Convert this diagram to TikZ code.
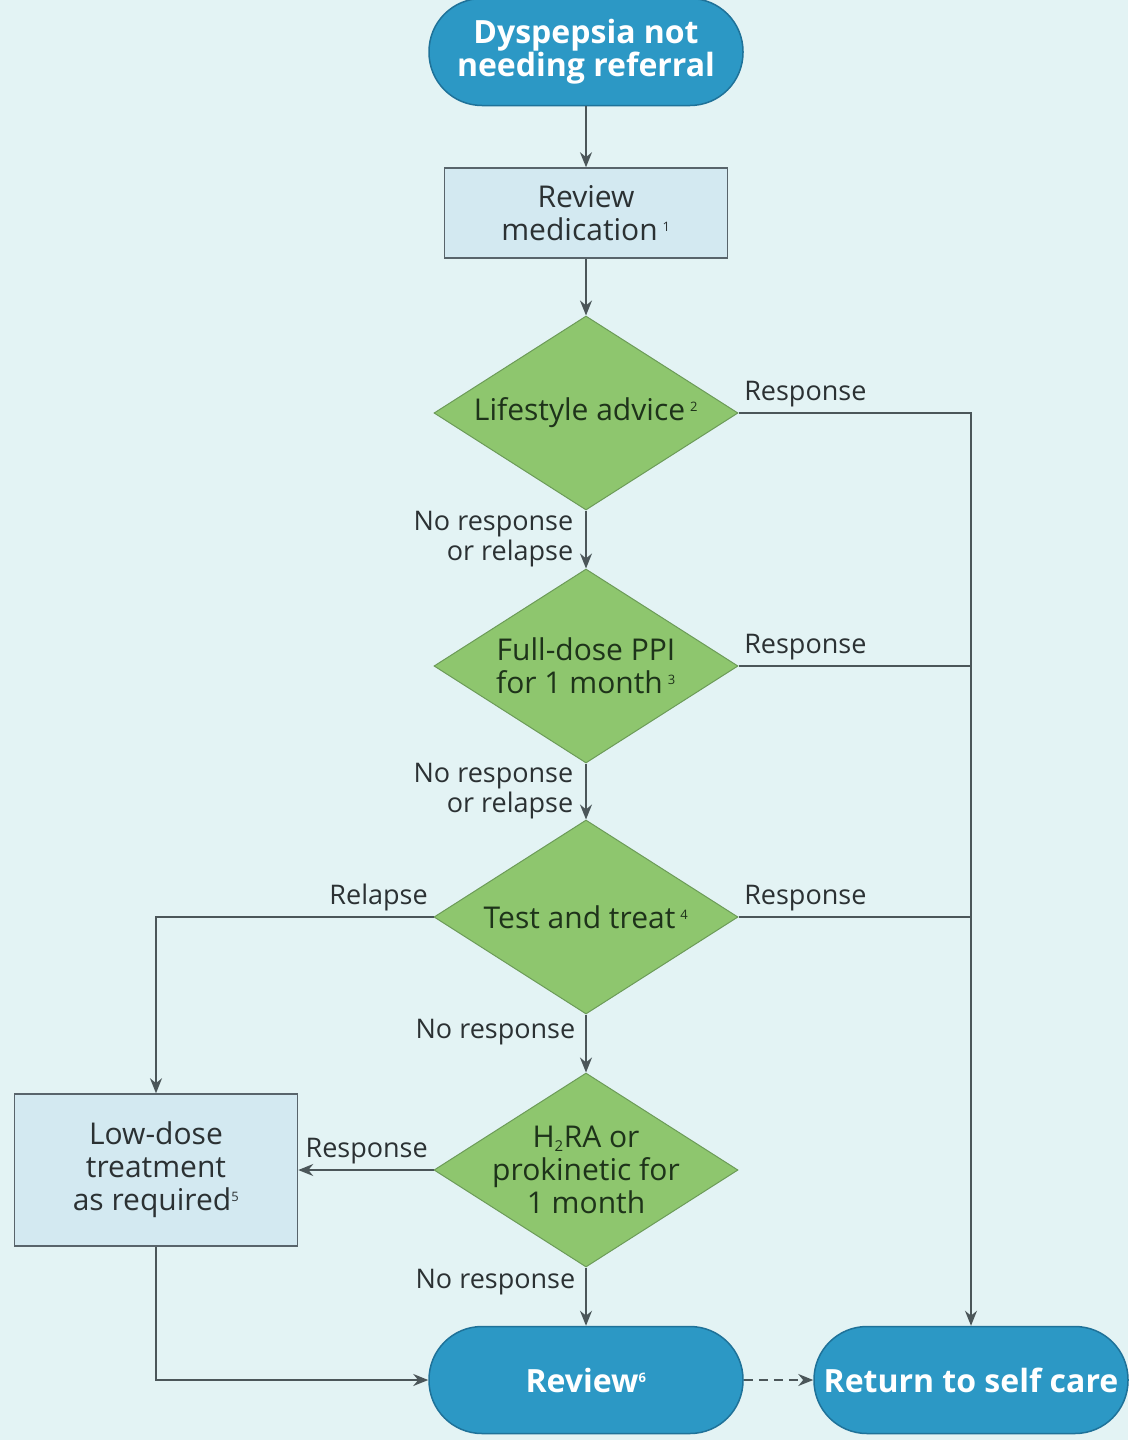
\documentclass[tikz,border=0pt]{standalone}
\usepackage{fontspec}
\setmainfont{Open Sans}
\usetikzlibrary{shapes}
\usetikzlibrary{arrows.meta}
\definecolor{bgcyan}{HTML}{E3F3F4}
\definecolor{termblue}{HTML}{2C98C5}
\definecolor{termedge}{HTML}{1F7299}
\definecolor{boxblue}{HTML}{D3E9F1}
\definecolor{boxedge}{HTML}{58646B}
\definecolor{diagreen}{HTML}{8EC66E}
\definecolor{diaedge}{HTML}{6C9B58}
\definecolor{linegray}{HTML}{4B5659}
\definecolor{textdark}{HTML}{2B3133}
\definecolor{textgreen}{HTML}{1E331A}
\newcommand{\fnref}[1]{\textsuperscript{\fontsize{13}{13}\selectfont #1}}
\tikzset{
	flownode/.style = {align=center, inner sep=0pt, text centered,
		font=\fontsize{30}{33}\selectfont},
	fl_term/.style = {flownode, rectangle, rounded corners=53pt, white,
		font=\fontsize{32}{33}\selectfont\bfseries, draw=termedge, fill=termblue,
		line width=1.5pt, minimum width=314pt, minimum height=107pt},% start and end
	fl_box/.style = {flownode, rectangle, text=textdark, draw=boxedge,
		fill=boxblue, line width=1.5pt, minimum width=283pt},% action
	fl_dia/.style = {flownode, diamond, aspect=1.57, text=textgreen,
		draw=diaedge, fill=diagreen, line width=1pt,
		minimum width=304pt, minimum height=194pt},% decision
	fl_lbl/.style = {font=\fontsize{27}{30}\selectfont, text=textdark,
		inner sep=5pt, align=right},% branch label
	conn/.style = {draw=linegray, line width=1.5pt}
}
\begin{document}
\begin{tikzpicture}[->,>={Stealth[length=15pt,width=12pt]},x=1pt,y=-1pt]
	\useasboundingbox (0,0) rectangle (1128,1440);
	\fill[bgcyan] (0,0) rectangle (1128,1440);
	\node [fl_term] (start) at (586,52) {Dyspepsia not\\needing referral};
	\node [fl_box, minimum height=90pt] (revmed) at (586,213) {Review\\medication\,\fnref{1}};
	\node [fl_dia] (life) at (586,413) {Lifestyle advice\,\fnref{2}};
	\node [fl_dia] (ppi) at (586,666) {Full-dose PPI\\for 1 month\,\fnref{3}};
	\node [fl_dia] (test) at (586,917) {Test and treat\,\fnref{4}};
	\node [fl_dia, inner xsep=-30pt, inner ysep=-20pt] (h2ra) at (586,1170) {H\textsubscript{\fontsize{15}{15}\selectfont 2}RA or\\prokinetic for\\1 month};
	\node [fl_box, minimum height=152pt] (lowdose) at (156,1170) {Low-dose\\treatment\\as required\fnref{5}};
	\node [fl_term] (review) at (586,1380) {Review\fnref{6}};
	\node [fl_term] (selfcare) at (971,1380) {Return to self care};

	\draw [conn] (start) -- (revmed);
	\draw [conn] (revmed) -- (life);
	\draw [conn] (life) -- node[fl_lbl, left, inner xsep=12pt]{No response\\or relapse} (ppi);
	\draw [conn] (ppi) -- node[fl_lbl, left, inner xsep=12pt]{No response\\or relapse} (test);
	\draw [conn] (test) -- node[fl_lbl, left, inner xsep=10pt, pos=0.3]{No response} (h2ra);
	\draw [conn] (h2ra) -- node[fl_lbl, left, inner xsep=10pt, pos=0.25]{No response} (review);
	\draw [conn] (life.east) -- node[fl_lbl, above right, pos=0]{Response} (life.east -| selfcare) -- (selfcare);
	\draw [conn, -] (ppi.east) -- node[fl_lbl, above right, pos=0]{Response} (ppi.east -| selfcare);
	\draw [conn, -] (test.east) -- node[fl_lbl, above right, pos=0]{Response} (test.east -| selfcare);
	\draw [conn] (test.west) -- node[fl_lbl, above left, pos=0]{Relapse} (test.west -| lowdose) -- (lowdose);
	\draw [conn] (h2ra.west) -- node[fl_lbl, above left, pos=0]{Response} (lowdose);
	\draw [conn] (lowdose) |- (review);
	\draw [conn, dash pattern=on 9pt off 6pt] (review) -- (selfcare);
\end{tikzpicture}
\end{document}
